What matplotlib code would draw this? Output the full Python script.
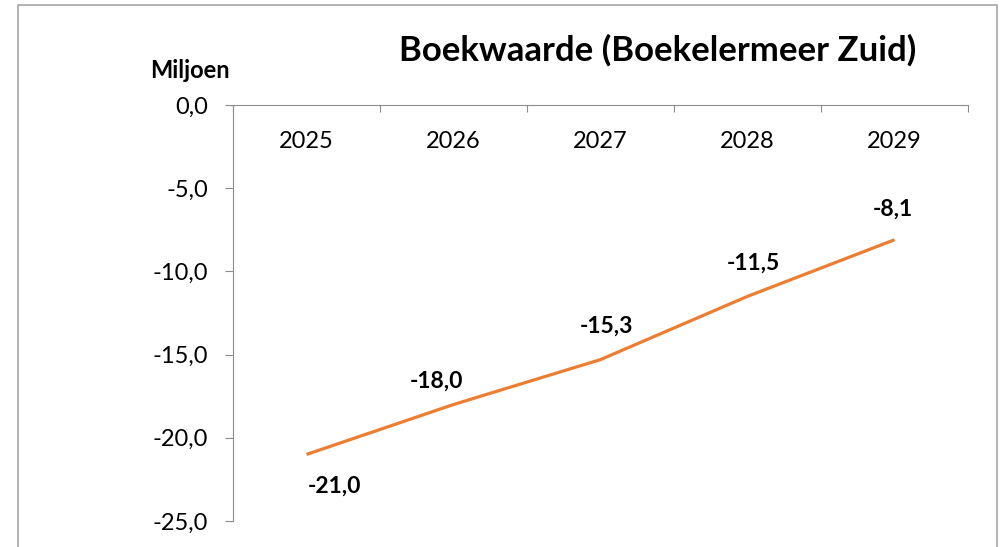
import matplotlib.pyplot as plt
from matplotlib.lines import Line2D
from matplotlib.ticker import FixedLocator, FuncFormatter

jaren = ["2025", "2026", "2027", "2028", "2029"]
boekwaarde = [-21.0, -18.0, -15.3, -11.5, -8.1]

# label offsets (points) per data label, as placed in the original
label_dx = [20, -12, 4, 4, -1]
label_dy = [-23, 17, 24, 24, 22]

plt.rcParams['font.family'] = ['Lato', 'DejaVu Sans']

fig = plt.figure(figsize=(10.02, 5.47), dpi=100)
ax = fig.add_axes([233 / 1002, 1 - 521 / 547, (968 - 233) / 1002, (521 - 105) / 547])

x = list(range(len(jaren)))
ax.plot(x, boekwaarde, color="#ED7D31", lw=2.3, solid_capstyle="butt")

for i, v in enumerate(boekwaarde):
    ax.annotate(f"{v:.1f}".replace(".", ","), (x[i], v),
                xytext=(label_dx[i], label_dy[i]), textcoords="offset points",
                ha="center", va="center", fontsize=16.5, fontweight="bold")

ax.set_xlim(-0.5, len(jaren) - 0.5)
ax.set_ylim(-25, 0)

gray = "#8C8C8C"
for s in ["right", "bottom"]:
    ax.spines[s].set_visible(False)
ax.spines["left"].set_color(gray)
ax.spines["top"].set_color(gray)

ax.set_yticks([0, -5, -10, -15, -20, -25])
ax.yaxis.set_major_formatter(FuncFormatter(lambda v, p: f"{v:.1f}".replace(".", ",")))
ax.tick_params(axis="y", direction="out", length=6, color=gray, labelsize=17, pad=12)

ax.xaxis.set_ticks_position("top")
ax.xaxis.set_major_locator(FixedLocator([i - 0.5 for i in range(len(jaren) + 1)]))
ax.xaxis.set_minor_locator(FixedLocator(x))
ax.set_xticklabels([], minor=False)
ax.set_xticklabels(jaren, minor=True)
ax.tick_params(axis="x", which="major", direction="in", length=5, color=gray,
               labeltop=False, labelbottom=False)
ax.tick_params(axis="x", which="minor", length=0, labeltop=True, labelbottom=False,
               labelsize=17, pad=-34)

fig.text(190 / 1002, 1 - 70 / 547, "Miljoen", ha="center", va="center",
         fontsize=17, fontweight="bold")
fig.text(658 / 1002, 1 - 50 / 547, "Boekwaarde (Boekelermeer Zuid)", ha="center",
         va="center", fontsize=25, fontweight="bold")

# chart frame (bottom edge is cut off in the original)
bx0, bx1, by = 18 / 1002, 997 / 1002, 1 - 5 / 547
fig.add_artist(Line2D([bx0, bx0, bx1, bx1], [0, by, by, 0], transform=fig.transFigure,
                      color="#A6A6A6", lw=1.2))

fig.savefig("out.png", dpi=100)
